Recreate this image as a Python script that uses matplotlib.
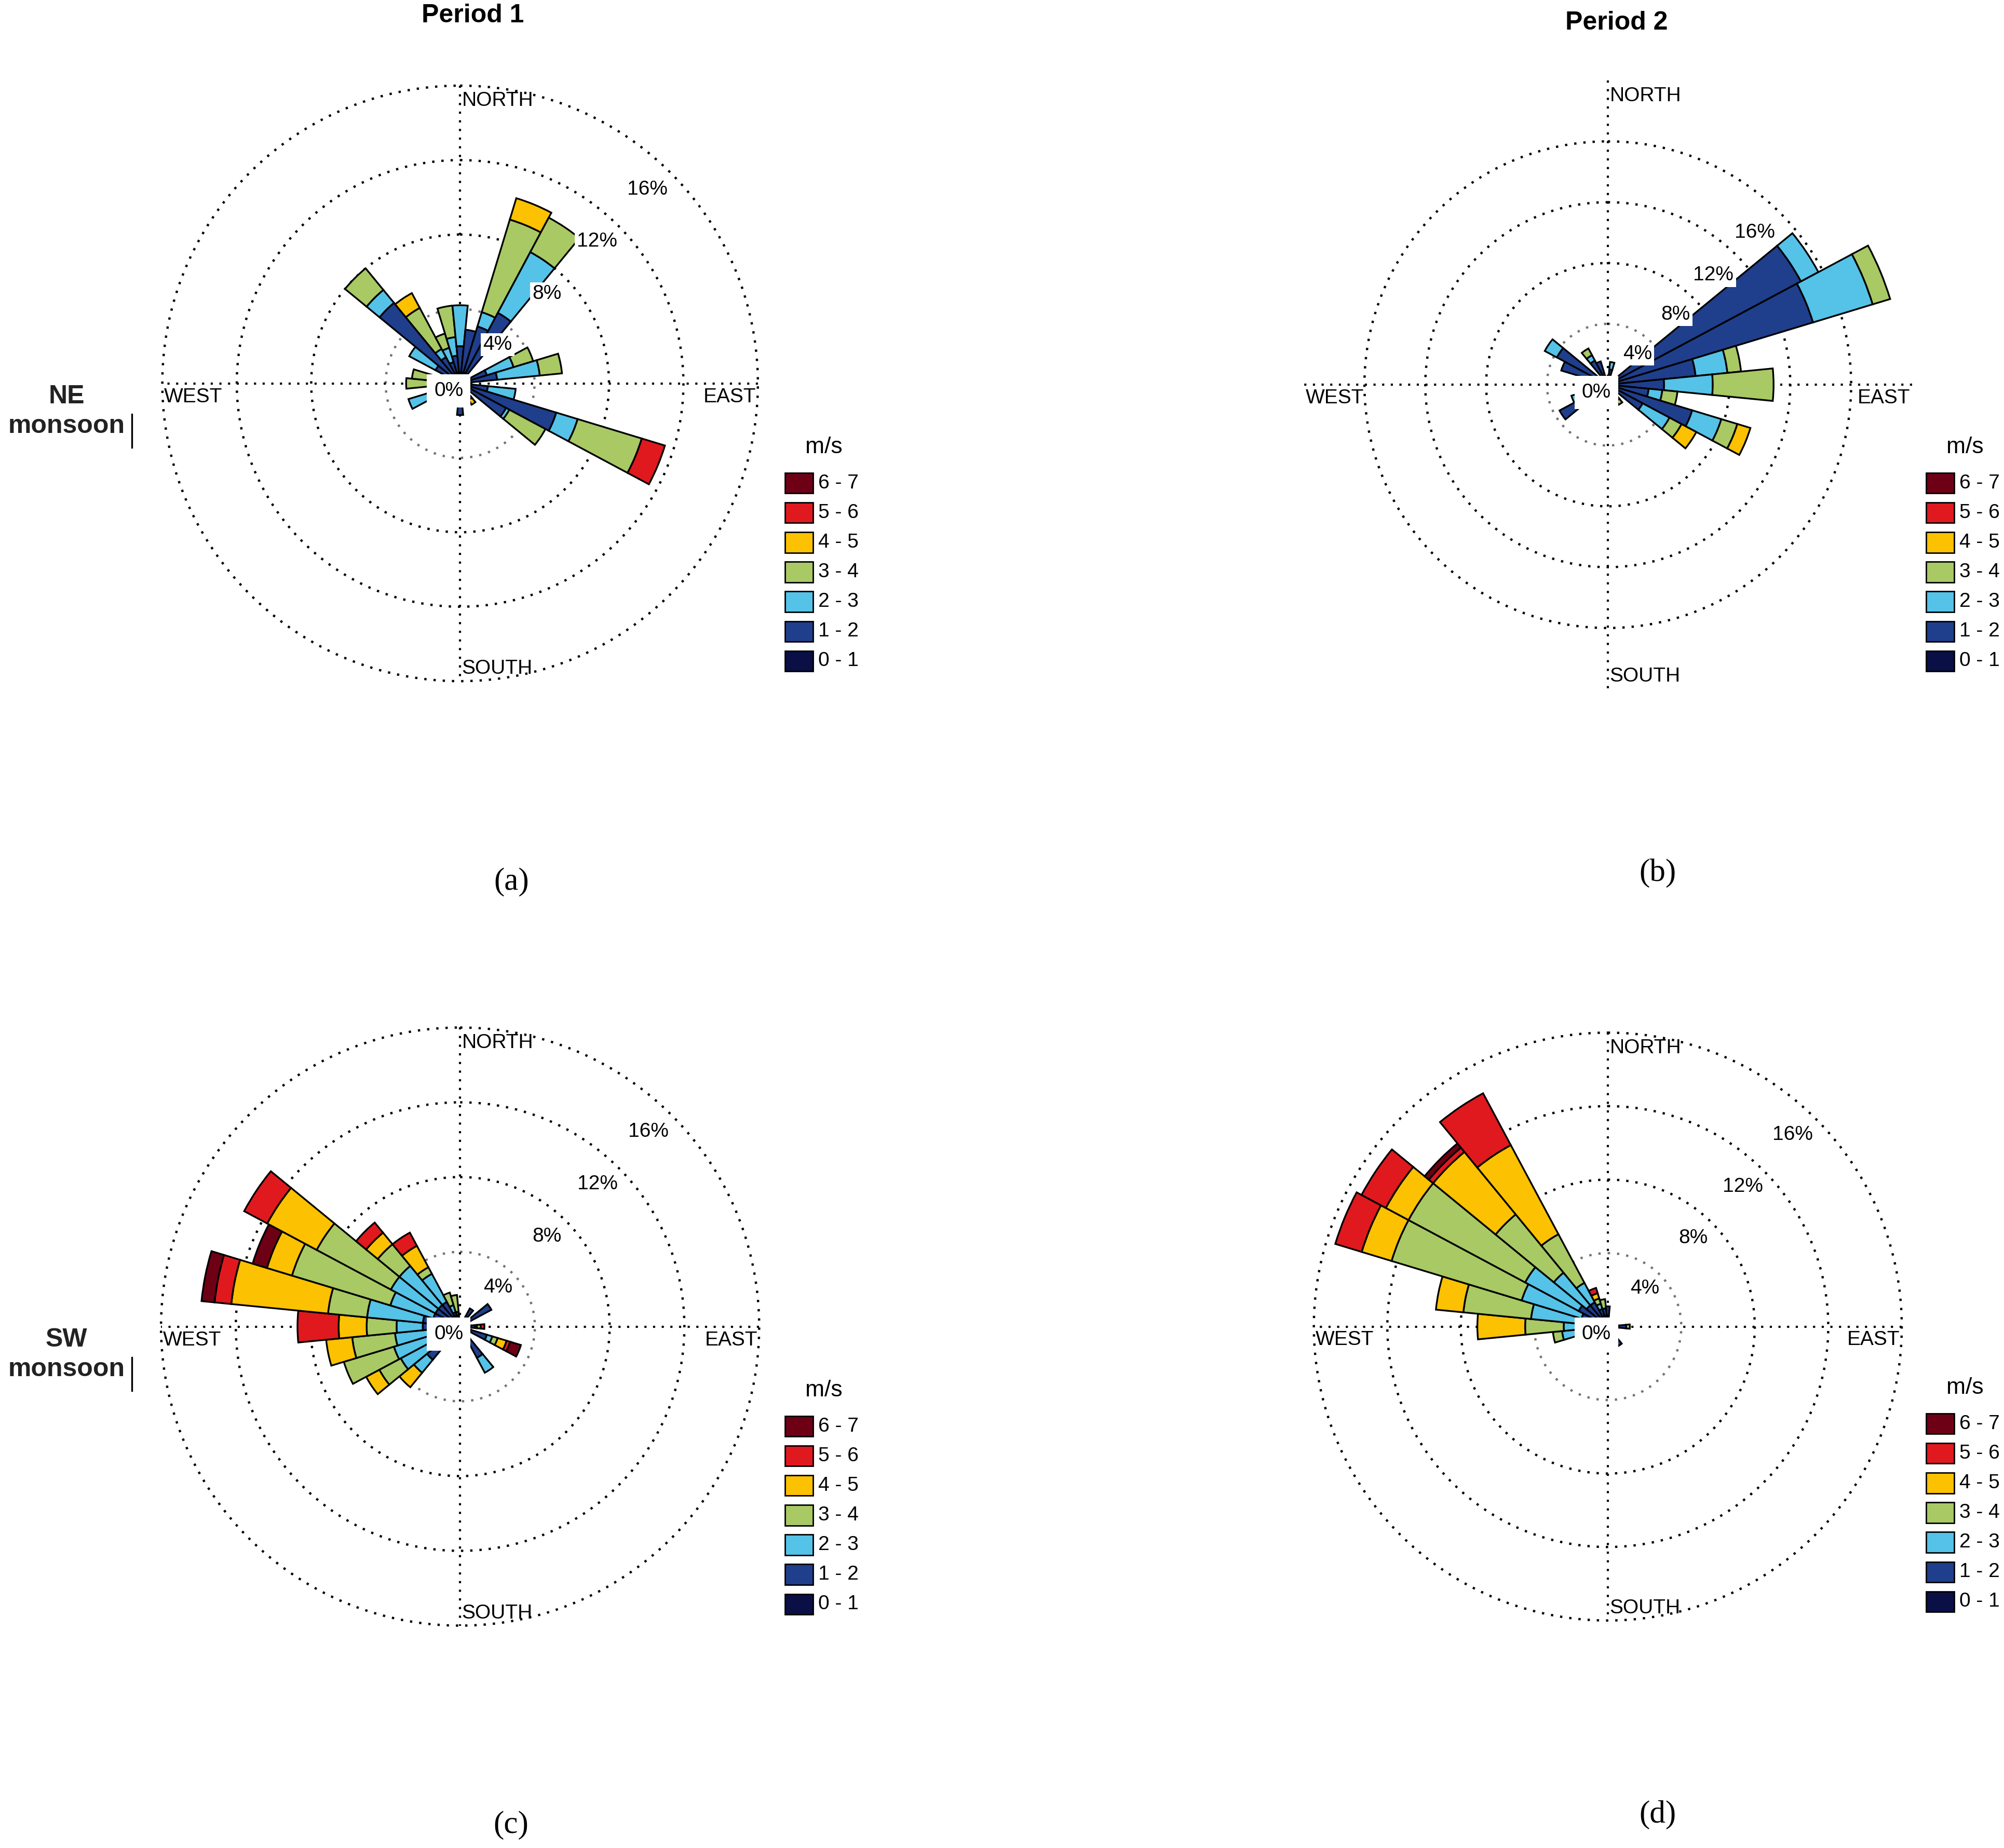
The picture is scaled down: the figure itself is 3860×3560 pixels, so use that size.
import numpy as np
import matplotlib
matplotlib.use("Agg")
import matplotlib.pyplot as plt
from matplotlib.patches import Rectangle
from matplotlib.lines import Line2D

plt.rcParams["font.family"] = ["Liberation Sans", "DejaVu Sans"]

SPEED_LABELS = ["0 - 1", "1 - 2", "2 - 3", "3 - 4", "4 - 5", "5 - 6", "6 - 7"]
SPEED_COLORS = ["#0a0f45", "#1f3e8c", "#55c2e8", "#a8c964", "#fcc100", "#e0191e", "#6e0016"]

# cumulative tops (%) per speed class, per direction (deg, clockwise from north)
A_DIRS = [22.5, 33.75, 67.5, 78.75, 101.25, 112.5, 123.75, 146.25, 180, 247.5,
          270, 281.25, 303.75, 315, 326.25, 337.5, 348.75, 0, 11.25]
A_TOPS = [[0.6, 3.2, 4.0, 9.2, 10.4], [0.6, 4.3, 8.0, 10.1], [0.6, 1.5, 3.0, 4.1],
          [0.6, 2.0, 4.3, 5.5], [0.6, 1.5, 3.0], [0.6, 5.4, 6.6, 10.2, 10.2, 11.5],
          [0.6, 2.8, 3.0, 5.2], [0.6, 0.9, 1.0, 1.0, 1.3], [0.6, 1.7], [0.6, 1.2, 2.9],
          [0.6, 1.0, 1.5, 2.9], [0.6, 1.0, 1.4, 2.6], [0.6, 1.5, 3.1], [0.6, 5.6, 6.5, 8.0],
          [0.6, 1.6, 2.1, 4.6, 5.5], [0.6, 1.2, 2.0, 2.8], [0.6, 1.5, 2.5, 4.2],
          [0.6, 2.0, 4.2], [0.6, 2.9]]

B_DIRS = [11.25, 56.25, 67.5, 78.75, 90, 101.25, 112.5, 123.75, 146.25, 236.25,
          247.5, 292.5, 303.75, 326.25, 337.5]
B_TOPS = [[0.6, 1.0, 1.5], [0.6, 14.4, 15.7], [0.6, 14.1, 18.2, 19.4], [0.6, 5.8, 7.9, 8.8],
          [0.6, 3.7, 6.9, 10.9], [0.6, 2.7, 3.6, 4.6], [0.6, 5.8, 7.8, 8.9, 9.8],
          [0.6, 2.6, 4.6, 5.5, 6.6], [0.6, 1.0, 1.2, 1.5], [0.6, 3.6], [0.6, 2.0, 2.5],
          [0.6, 3.2], [0.6, 3.8, 4.7], [0.6, 1.8, 2.2, 2.7], [0.6, 1.6]]

C_DIRS = [33.75, 56.25, 90, 112.5, 146.25, 225, 236.25, 247.5, 258.75, 270,
          281.25, 292.5, 303.75, 315, 326.25, 337.5, 348.75]
C_TOPS = [[0.6, 1.1], [0.6, 1.9], [0.6, 0.8, 0.9, 1.1, 1.1, 1.3],
          [0.6, 1.5, 1.8, 2.1, 2.6, 2.8, 3.4], [0.6, 1.9, 2.8], [0.6, 2.3, 3.2, 3.2, 4.2],
          [0.6, 1.5, 3.6, 4.9, 5.7], [0.6, 1.5, 3.7, 6.5], [0.6, 1.5, 3.5, 5.8, 7.2],
          [0.6, 2.0, 3.4, 5.0, 6.5, 8.7], [0.6, 2.0, 5.0, 7.1, 12.3, 13.2, 13.9],
          [0.6, 1.5, 3.9, 9.4, 10.8, 10.8, 11.6], [0.6, 1.5, 4.2, 8.7, 11.7, 13.1],
          [0.6, 1.5, 4.2, 5.7, 6.5, 7.2], [0.6, 1.5, 3.2, 3.6, 4.9, 5.7],
          [0.6, 0.8, 1.2, 1.9], [0.6, 0.8, 0.8, 1.7]]

D_DIRS = [0, 90, 146.25, 258.75, 270, 281.25, 292.5, 303.75, 315, 326.25, 337.5, 348.75]
D_TOPS = [[0.6, 1.1], [0.6, 1.0, 1.0, 1.2], [0.6, 1.2], [0.6, 1.3, 2.5, 3.0],
          [0.6, 1.3, 2.4, 4.5, 7.1], [0.6, 1.5, 4.2, 7.9, 9.4],
          [0.6, 1.5, 4.9, 12.3, 14.0, 15.5], [0.6, 1.8, 5.1, 12.3, 13.7, 15.2],
          [0.6, 1.5, 3.8, 7.9, 12.3, 12.6, 12.9], [0.6, 1.5, 2.7, 5.7, 11.2, 14.4],
          [0.6, 1.0, 1.3, 1.6, 1.9, 2.2], [0.6, 1.0, 1.0, 1.5]]

RINGS = [4, 8, 12, 16]
RING_LABELS = ["4%", "8%", "12%", "16%"]

W, H = 1568.0, 1446.0  # layout reference units

fig = plt.figure(figsize=(19.3, 17.8), dpi=200)


def rose(cx, cy, rad, rmax, dirs, tops, label_r, legend_x, legend_y):
    ax = fig.add_axes([(cx - rad) / W, 1 - (cy + rad) / H, 2 * rad / W, 2 * rad / H],
                      projection="polar")
    ax.set_theta_zero_location("N")
    ax.set_theta_direction(-1)
    ax.set_ylim(0, rmax)
    ax.grid(False)
    ax.set_xticks([])
    ax.set_yticks([])
    ax.spines["polar"].set_visible(False)
    t = np.linspace(0, 2 * np.pi, 400)
    for i, r in enumerate(RINGS):
        col = "0.45" if i == 0 else "black"
        ax.plot(t, np.full_like(t, r), ls=(0, (1, 3)), color=col, lw=1.6, zorder=1,
                clip_on=False)
    for a in [0, 90]:
        th = np.deg2rad(a)
        ax.plot([th, th + np.pi], [rmax, rmax], ls=(0, (1, 3)), color="black", lw=1.5, zorder=1,
                clip_on=False)
    width = 2 * np.pi / 32
    for d, tp in zip(dirs, tops):
        tp = list(tp) + [tp[-1]] * (7 - len(tp))
        prev = 0.0
        for k in range(7):
            h = tp[k] - prev
            if h > 0:
                b = ax.bar(np.deg2rad(d), h, width=width, bottom=prev, color=SPEED_COLORS[k],
                           edgecolor="black", linewidth=1.2, zorder=3)
                b[0].set_clip_on(False)
            prev = tp[k]
    for lr, s in zip(label_r, RING_LABELS):
        ax.text(np.deg2rad(44), lr, s, fontsize=14, ha="center", va="center", zorder=5,
                bbox=dict(facecolor="white", edgecolor="none", pad=1.5))
    ax.text(0.5 - 9 / (2 * rad), 0.5 - 6 / (2 * rad), "0%", transform=ax.transAxes, fontsize=14,
            ha="center", va="center", zorder=6,
            bbox=dict(facecolor="white", edgecolor="none", pad=5))
    ax.text(0.503, 0.99, "NORTH", transform=ax.transAxes, fontsize=14, ha="left", va="top")
    ax.text(0.503, 0.005, "SOUTH", transform=ax.transAxes, fontsize=14, ha="left", va="bottom")
    ax.text(0.003, 0.493, "WEST", transform=ax.transAxes, fontsize=14, ha="left", va="top")
    ax.text(0.997, 0.493, "EAST", transform=ax.transAxes, fontsize=14, ha="right", va="top")
    # legend
    fig.text(legend_x / W, 1 - legend_y / H, "m/s", fontsize=16, ha="left", va="center")
    for i in range(7):
        k = 6 - i
        yc = legend_y + 28 + i * 23.2
        fig.add_artist(Rectangle(((legend_x - 16) / W, 1 - (yc + 8) / H), 22 / W, 16 / H,
                                 facecolor=SPEED_COLORS[k], edgecolor="black", lw=1.0,
                                 transform=fig.transFigure))
        fig.text((legend_x + 10) / W, 1 - yc / H, SPEED_LABELS[k], fontsize=14, ha="left",
                 va="center")
    return ax


rose(360, 300, 233, 16, A_DIRS, A_TOPS, [2.9, 6.7, 10.6, 14.5], 630, 350)
rose(1258, 301, 238, 20, B_DIRS, B_TOPS, [2.8, 6.4, 10.0, 13.9], 1523, 350)
rose(360, 1038, 234, 16, C_DIRS, C_TOPS, [2.9, 6.7, 10.6, 14.5], 630, 1088)
rose(1258, 1038, 230, 16, D_DIRS, D_TOPS, [2.9, 6.7, 10.6, 14.5], 1523, 1086)

fig.text(370 / W, 1 - 12 / H, "Period 1", fontsize=18, fontweight="bold", ha="center", va="center")
fig.text(1265 / W, 1 - 18 / H, "Period 2", fontsize=18, fontweight="bold", ha="center", va="center")
for y, s in [(322, "NE\nmonsoon"), (1060, "SW\nmonsoon")]:
    fig.text(52 / W, 1 - y / H, s, fontsize=18, fontweight="bold", ha="center", va="center",
             linespacing=1.3, color="#222222")
    fig.add_artist(Line2D([103 / W, 103 / W], [1 - (y + 2) / H, 1 - (y + 28) / H],
                          color="black", lw=1.2, transform=fig.transFigure))
for x, y, s in [(400, 690, "(a)"), (1297, 683, "(b)"), (400, 1428, "(c)"), (1297, 1420, "(d)")]:
    fig.text(x / W, 1 - y / H, s, fontsize=22, family=["Liberation Serif", "DejaVu Serif"],
             ha="center", va="center")

fig.savefig("out.png", dpi=200, facecolor="white")
